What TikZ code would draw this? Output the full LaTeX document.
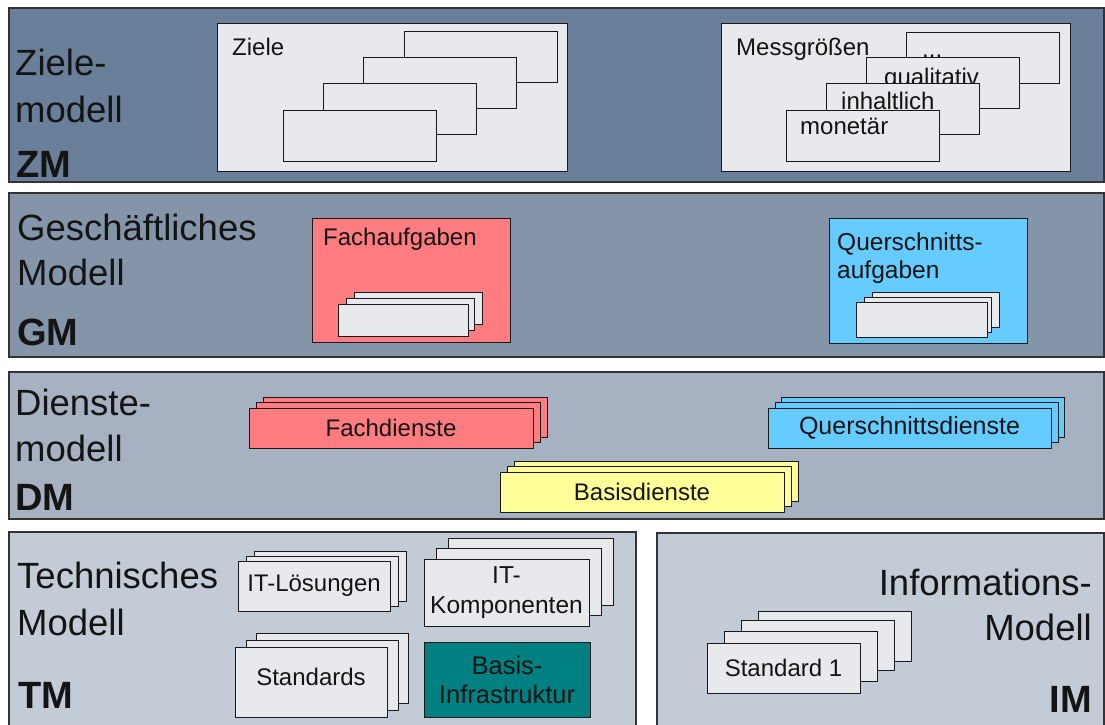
\documentclass[tikz,border=0pt]{standalone}
\usepackage{fontspec}
\setmainfont{Liberation Sans}
\definecolor{zmc}{HTML}{6A7F99}
\definecolor{gmc}{HTML}{8495A9}
\definecolor{dmc}{HTML}{A6B2C1}
\definecolor{tmc}{HTML}{C3CBD6}
\definecolor{lbox}{HTML}{E7E9ED}
\definecolor{salmon}{HTML}{FF7C80}
\definecolor{skyb}{HTML}{66CCFF}
\definecolor{paley}{HTML}{FFFF99}
\definecolor{tealc}{HTML}{008080}
\definecolor{ink}{HTML}{141414}
\begin{document}
\begin{tikzpicture}[x=1pt,y=-1pt,
  band/.style={draw=black!80, line width=1.4pt, inner sep=0pt, outer sep=0pt, anchor=north west},
  box/.style={draw=black!90, line width=0.9pt, fill=lbox, inner sep=0pt, outer sep=0pt, anchor=north west, text=ink, font=\fontsize{24}{30}\selectfont, align=center},
  lbl/.style={font=\fontsize{36.5}{40}\selectfont, anchor=base west, inner sep=0pt, text=ink},
  lblr/.style={font=\fontsize{36.5}{40}\selectfont, anchor=base east, inner sep=0pt, text=ink},
  abbr/.style={font=\fontsize{38}{42}\selectfont\bfseries, anchor=base west, inner sep=0pt, text=ink},
  txt/.style={font=\fontsize{24}{30}\selectfont, anchor=base west, inner sep=0pt, text=ink}]
\useasboundingbox (0,0) rectangle (1105,724);
\clip (0,0) rectangle (1105,724);
\fill[white] (0,0) rectangle (1105,724);

% ---------------- ZM ----------------
\node[band, fill=zmc, minimum width=1095pt, minimum height=174pt] (zm) at (9,8) {};
\node[lbl] (zml1) at (15,75) {Ziele-};
\node[lbl] (zml2) at (15,122) {modell};
\node[abbr] (zml3) at (16,177) {ZM};

\node[box, minimum width=350pt, minimum height=148pt] (ziele) at (217,23) {};
\node[txt] (zielet) at (232,55) {Ziele};
\node[box, minimum width=153pt, minimum height=51pt] (z1) at (404,31) {};
\node[box, minimum width=153pt, minimum height=51pt] (z2) at (363,57) {};
\node[box, minimum width=153pt, minimum height=51pt] (z3) at (323,83) {};
\node[box, minimum width=153pt, minimum height=51pt] (z4) at (283,110) {};

\node[box, minimum width=349pt, minimum height=148pt] (mess) at (721,23) {};
\node[txt] (messt) at (736,55) {Messgrößen};
\node[box, minimum width=153pt, minimum height=51pt] (m1) at (906,32) {};
\node[txt] (m1t) at (922,57) {...};
\node[box, minimum width=153pt, minimum height=51pt] (m2) at (866,57) {};
\node[txt] (m2t) at (884,85) {qualitativ};
\node[box, minimum width=153pt, minimum height=51pt] (m3) at (826,83) {};
\node[txt] (m3t) at (841,109) {inhaltlich};
\node[box, minimum width=153pt, minimum height=51pt] (m4) at (786,110) {};
\node[txt] (m4t) at (800,134) {monetär};

% ---------------- GM ----------------
\node[band, fill=gmc, minimum width=1095pt, minimum height=164pt] (gm) at (9,193) {};
\node[lbl] (gml1) at (17,240) {Geschäftliches};
\node[lbl] (gml2) at (17,285) {Modell};
\node[abbr] (gml3) at (17,345) {GM};

\node[box, fill=salmon, minimum width=198pt, minimum height=124pt] (fach) at (312,218) {};
\node[txt] (facht) at (323,245) {Fachaufgaben};
\node[box, minimum width=128pt, minimum height=32pt] (f1) at (354,292) {};
\node[box, minimum width=128pt, minimum height=32pt] (f2) at (346,298) {};
\node[box, minimum width=130pt, minimum height=32pt] (f3) at (338,304) {};

\node[box, fill=skyb, minimum width=198pt, minimum height=125pt] (quer) at (829,218) {};
\node[txt, font=\fontsize{24.5}{28}\selectfont] (quert1) at (837,250) {Querschnitts-};
\node[txt, font=\fontsize{24.5}{28}\selectfont] (quert2) at (837,278) {aufgaben};
\node[box, minimum width=127pt, minimum height=35pt] (q1) at (872,292) {};
\node[box, minimum width=127pt, minimum height=35pt] (q2) at (864,297) {};
\node[box, minimum width=131pt, minimum height=35pt] (q3) at (856,302) {};

% ---------------- DM ----------------
\node[band, fill=dmc, minimum width=1095pt, minimum height=147pt] (dm) at (9,372) {};
\node[lbl] (dml1) at (15,415) {Dienste-};
\node[lbl] (dml2) at (15,461) {modell};
\node[abbr] (dml3) at (15,510) {DM};

\node[box, fill=salmon, minimum width=284pt, minimum height=40pt] (fd1) at (263,397) {};
\node[box, fill=salmon, minimum width=284pt, minimum height=40pt] (fd2) at (256,402) {};
\node[box, fill=salmon, minimum width=284pt, minimum height=40pt] (fd3) at (249,408) {Fachdienste};

\node[box, fill=skyb, minimum width=283pt, minimum height=40pt] (qd1) at (781,397) {};
\node[box, fill=skyb, minimum width=283pt, minimum height=40pt] (qd2) at (775,402) {};
\node[box, fill=skyb, minimum width=283pt, minimum height=40pt, font=\fontsize{25}{30}\selectfont] (qd3) at (768,408) {Querschnittsdienste};

\node[box, fill=paley, minimum width=284pt, minimum height=40pt] (bd1) at (514,461) {};
\node[box, fill=paley, minimum width=284pt, minimum height=40pt] (bd2) at (507,466) {};
\node[box, fill=paley, minimum width=284pt, minimum height=40pt] (bd3) at (500,472) {Basisdienste};

% ---------------- TM ----------------
\node[band, fill=tmc, minimum width=627pt, minimum height=200pt] (tm) at (9,532) {};
\node[lbl] (tml1) at (17,588) {Technisches};
\node[lbl] (tml2) at (17,635) {Modell};
\node[abbr] (tml3) at (18,708) {TM};

\node[box, minimum width=152pt, minimum height=50pt] (itl1) at (254,551) {};
\node[box, minimum width=152pt, minimum height=50pt] (itl2) at (246,556) {};
\node[box, minimum width=152pt, minimum height=50pt] (itl3) at (238,561) {IT-Lösungen};

\node[box, minimum width=165pt, minimum height=67pt] (itk1) at (448,538) {};
\node[box, minimum width=165pt, minimum height=67pt] (itk2) at (436,548) {};
\node[box, minimum width=165pt, minimum height=67pt, font=\fontsize{24.5}{30}\selectfont] (itk3) at (424,559) {IT-\\Komponenten};

\node[box, minimum width=152pt, minimum height=70pt] (std1) at (256,633) {};
\node[box, minimum width=152pt, minimum height=70pt] (std2) at (246,640) {};
\node[box, minimum width=152pt, minimum height=70pt] (std3) at (235,647) {\raisebox{5pt}[\height][\depth]{Standards}};

\node[box, fill=tealc, minimum width=166pt, minimum height=75pt, font=\fontsize{25.5}{29}\selectfont] (basis) at (424,642) {Basis-\\Infrastruktur};

% ---------------- IM ----------------
\node[band, fill=tmc, minimum width=447pt, minimum height=200pt] (im) at (657,533) {};
\node[lblr] (iml1) at (1092,595) {Informations-};
\node[lblr] (iml2) at (1092,640) {Modell};
\node[abbr, anchor=base east] (iml3) at (1092,712) {IM};

\node[box, minimum width=153pt, minimum height=50pt] (s1) at (758,611) {};
\node[box, minimum width=153pt, minimum height=50pt] (s2) at (741,620) {};
\node[box, minimum width=153pt, minimum height=50pt] (s3) at (724,631) {};
\node[box, minimum width=153pt, minimum height=50pt] (s4) at (707,643) {Standard 1};
\end{tikzpicture}
\end{document}
